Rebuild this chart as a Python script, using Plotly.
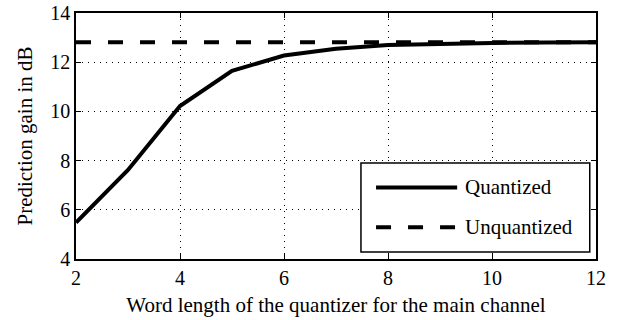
import plotly.graph_objects as go

word_length = [2, 3, 4, 5, 6, 7, 8, 9, 10, 11, 12]
quantized = [5.48, 7.62, 10.22, 11.65, 12.27, 12.55, 12.70, 12.75, 12.78, 12.80, 12.81]
unquantized = [12.81] * len(word_length)
series_names = ["Quantized", "Unquantized"]
x_ticks = [2, 4, 6, 8, 10, 12]
y_ticks = [4, 6, 8, 10, 12, 14]

FONT = "Liberation Serif"
TXT = 21
TICK = 20

fig = go.Figure()
fig.add_trace(go.Scatter(x=word_length, y=unquantized, mode="lines", name=series_names[1],
                         line=dict(color="black", width=4, dash="15px,17px"), showlegend=False))
fig.add_trace(go.Scatter(x=word_length, y=quantized, mode="lines", name=series_names[0],
                         line=dict(color="black", width=4), showlegend=False))

# manual legend (box, line samples, labels)
fig.add_shape(type="rect", xref="x", yref="y", x0=7.48, x1=11.88, y0=4.28, y1=7.90,
              line=dict(color="black", width=1.5), fillcolor="white", layer="above")
fig.add_shape(type="line", xref="x", yref="y", x0=7.77, x1=9.33, y0=6.91, y1=6.91,
              line=dict(color="black", width=4), layer="above")
fig.add_shape(type="line", xref="x", yref="y", x0=7.77, x1=9.33, y0=5.29, y1=5.29,
              line=dict(color="black", width=4, dash="15px,17px"), layer="above")
for name, yy in zip(series_names, [6.91, 5.29]):
    fig.add_annotation(x=9.45, y=yy, xref="x", yref="y", text=name, showarrow=False,
                       xanchor="left", yanchor="middle", font=dict(family=FONT, size=TXT, color="black"))

axis_common = dict(showline=True, linecolor="black", linewidth=1.5, mirror="ticks",
                   ticks="inside", ticklen=5, tickcolor="black", tickwidth=1,
                   showgrid=True, gridcolor="black", gridwidth=1, griddash="1px,5px",
                   zeroline=False, automargin=False,
                   tickfont=dict(family=FONT, size=TICK, color="black"))

fig.update_xaxes(range=[2, 12], tickvals=x_ticks, title=dict(text="Word length of the quantizer for the main channel",
                 font=dict(family=FONT, size=TXT, color="black"), standoff=10), **axis_common)
fig.update_yaxes(range=[4, 14], tickvals=y_ticks, title=dict(text="Prediction gain in dB",
                 font=dict(family=FONT, size=TXT, color="black"), standoff=12), **axis_common)

fig.update_layout(width=621, height=320, margin=dict(l=76, r=25, t=13, b=61),
                  plot_bgcolor="white", paper_bgcolor="white", showlegend=False,
                  font=dict(family=FONT, color="black"))

fig.write_html("out.html", config={"displayModeBar": False},
               post_script="document.body.style.margin='0';document.body.style.padding='0';")
